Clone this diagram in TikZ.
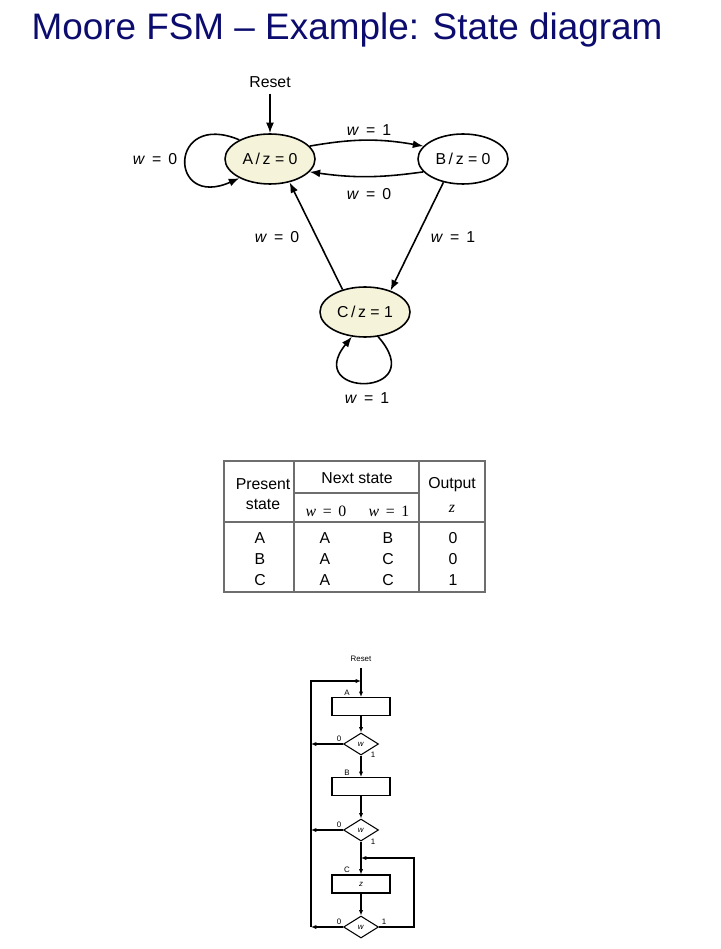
\documentclass[tikz,border=0pt]{standalone}
\usepackage{fontspec}
\setmainfont{Liberation Sans}
\newfontfamily\serifw{Liberation Serif}
\usetikzlibrary{shapes.geometric, arrows.meta}
\definecolor{titleblue}{RGB}{12,12,110}
\definecolor{statefill}{RGB}{245,243,218}
\definecolor{tablegray}{RGB}{110,110,110}

\begin{document}
\begin{tikzpicture}[x=0.02cm, y=-0.02cm,
    state/.style={ellipse, draw, line width=0.9pt, minimum width=1.8cm, minimum height=1cm, inner sep=0pt, font=\fontsize{9}{10}\selectfont},
    lbl/.style={font=\fontsize{9}{10}\selectfont},
    arr/.style={-{Latex[length=6pt,width=4.5pt]}, line width=0.9pt},
    tabline/.style={draw=tablegray, line width=0.9pt},
    box/.style={rectangle, draw, line width=0.6pt, minimum width=1.16cm, minimum height=0.36cm, inner sep=0pt, font=\fontsize{4.5}{5}\selectfont},
    dec/.style={diamond, draw, line width=0.6pt, aspect=1.6, minimum width=0.7cm, minimum height=0.44cm, inner sep=0pt, font=\fontsize{4.5}{5}\selectfont},
    small/.style={font=\fontsize{4.5}{5}\selectfont},
    fline/.style={line width=0.6pt},
    farr/.style={-{Latex[length=3pt,width=2.4pt]}, line width=0.6pt}]
        \useasboundingbox (0,0) rectangle (720,949);
        % Заголовок
        \node[anchor=base, text=titleblue, font=\fontsize{21}{24}\selectfont] (title) at (347,40) {Moore FSM -- Example: State diagram};

        % Состояния
        \foreach \n/\x/\y/\o/\c in {A/270/159/0/statefill, B/463/159/0/white, C/365/312/1/statefill} {
          \node[state, fill=\c] (\n) at (\x,\y) {\n\,/\,z = \o};
        }
        \node[lbl] (reset) at (270,82) {Reset};
        \draw[arr] (reset) -- (A);
        % Переходы
        \draw[arr] (A.18) to[bend left=10] (B.162);
        \draw[arr] (B.198) to[bend left=8] (A.-18);
        \draw[arr] (B.-130) -- (C.40);
        \draw[arr] (C.135) -- (A.-50);
        \draw[arr] (A.148) .. controls (168,110) and (168,210) .. (A.212);
        \draw[arr] (C.-62) .. controls (432,398) and (302,398) .. (C.-118);
        % Подписи переходов
        \foreach \n/\x/\y/\v in {lAA/155/159/0, lAB/369/130/1, lBA/369/194/0, lCA/277/237/0, lBC/453/237/1, lCC/367/398/1} {
          \node[lbl] (\n) at (\x,\y) {\textit{w}~\,=~\,\v};
        }

        % Таблица
        \draw[tabline] (224,461) rectangle (485,592);
        \draw[tabline] (294,461) -- (294,592);
        \draw[tabline] (419,461) -- (419,592);
        \draw[tabline] (294,493) -- (419,493);
        \draw[tabline] (224,522) -- (485,522);
        \node[lbl] (present) at (263,484) {Present};
        \node[lbl] (pstate) at (263,504) {state};
        \node[lbl] (next) at (357,478) {Next state};
        \node[lbl] (output) at (452,485) {Output};
        \node[lbl] (zout) at (452,509) {\serifw\itshape z};
        \node[lbl] (wzero) at (326,511) {\serifw\textit{w}~\,=~\,0};
        \node[lbl] (wone) at (389,511) {\serifw\textit{w}~\,=~\,1};
        \foreach \r/\y/\a/\b/\c/\d in {1/538/A/A/B/0, 2/559/B/A/C/0, 3/580/C/A/C/1} {
          \node[lbl] (p\r) at (260,\y) {\a};
          \node[lbl] (n\r) at (325,\y) {\b};
          \node[lbl] (m\r) at (388,\y) {\c};
          \node[lbl] (o\r) at (453,\y) {\d};
        }

        % ASM-схема
        \node[small] (rst) at (361,659) {Reset};
        \foreach \n/\y/\t in {boxA/706.5/{}, boxB/786.5/{}, boxC/884/\textit{z}} {
          \node[box] (\n) at (361,\y) {\t};
        }
        \foreach \n/\y in {dA/744, dB/830, dC/927} {
          \node[dec] (\n) at (361,\y) {\textit{w}};
        }
        \foreach \n/\y/\t in {sA/693/A, sB/773/B, sC/870/C} {
          \node[small] (\n) at (347,\y) {\t};
        }
        \foreach \n/\x/\y/\t in {zA/339/739/0, zB/339/825/0, zC/339/922/0, uA/373/755/1, uB/373/842/1, uC/384/922/1} {
          \node[small] (\n) at (\x,\y) {\t};
        }
        \coordinate (jTop) at (361,681);
        \coordinate (lTop) at (311,681);
        \coordinate (lBot) at (311,927);
        \coordinate (jLoop) at (361,858);
        \coordinate (rTop) at (414,858);
        \draw[fline] (rst) -- (jTop);
        \draw[farr] (jTop) -- (boxA);
        \draw[farr] (boxA) -- (dA);
        \draw[farr] (dA) -- (boxB);
        \draw[farr] (boxB) -- (dB);
        \draw[fline] (dB) -- (jLoop);
        \draw[farr] (jLoop) -- (boxC);
        \draw[farr] (boxC) -- (dC);
        \draw[farr] (lBot) -- (lTop) -- (jTop);
        \draw[farr] (dA.west) -- (dA.west -| lTop);
        \draw[farr] (dB.west) -- (dB.west -| lTop);
        \draw[farr] (dC.west) -- (lBot);
        \draw[farr] (dC.east) -| (rTop) -- (jLoop);
    \end{tikzpicture}
\end{document}
